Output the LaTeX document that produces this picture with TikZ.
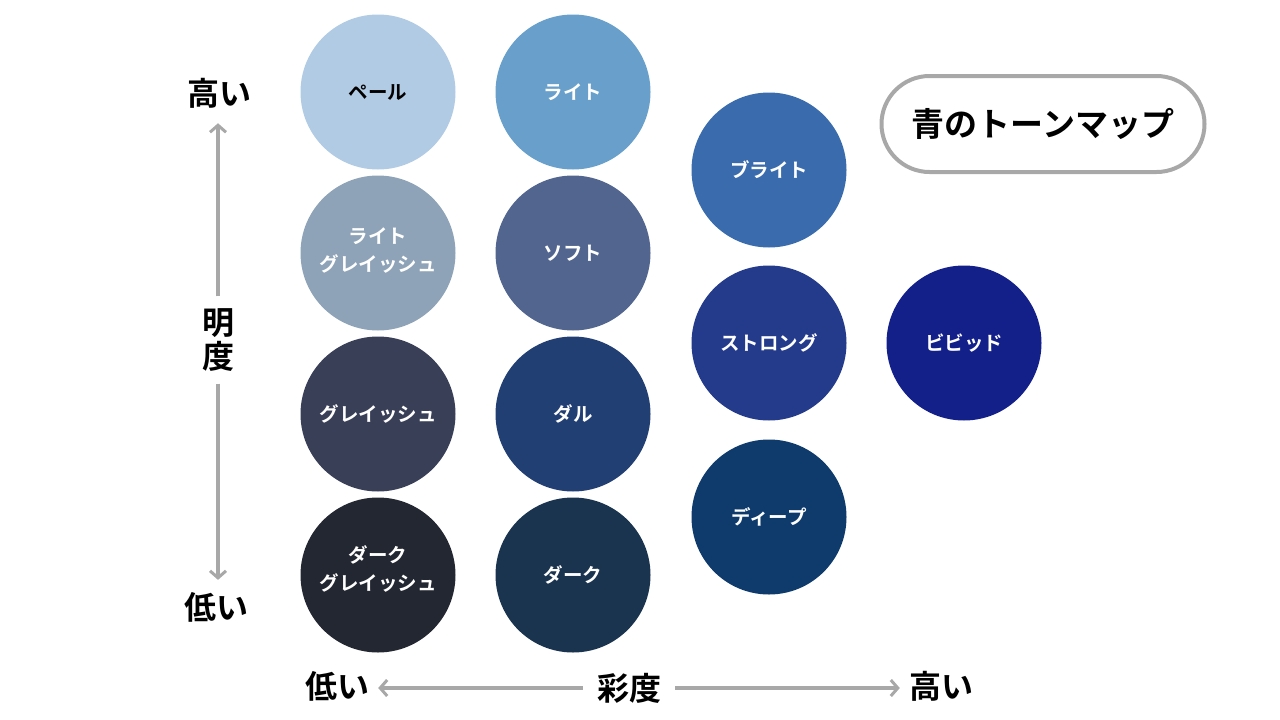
\documentclass[tikz,border=0pt]{standalone}
\usepackage{fontspec}
\setmainfont{Noto Sans CJK JP}[BoldFont={Noto Sans CJK JP Bold}]
\usetikzlibrary{arrows.meta}
\definecolor{cPale}{HTML}{B0CBE3}
\definecolor{cLight}{HTML}{68A0CB}
\definecolor{cBright}{HTML}{3A6CAD}
\definecolor{cLtGray}{HTML}{8EA3B7}
\definecolor{cSoft}{HTML}{52658F}
\definecolor{cStrong}{HTML}{243A8B}
\definecolor{cVivid}{HTML}{13208A}
\definecolor{cGray}{HTML}{3A3F58}
\definecolor{cDull}{HTML}{223F73}
\definecolor{cDeep}{HTML}{0E3B6C}
\definecolor{cDkGray}{HTML}{232731}
\definecolor{cDark}{HTML}{1A3450}
\definecolor{axisgray}{HTML}{A8A8A8}
\tikzset{
  tone/.style={circle, minimum size=155pt, inner sep=0pt, text=white,
    font=\bfseries\fontsize{19.5}{27.5}\selectfont, align=center},
  tonetext/.style={inner sep=0pt, text=white,
    font=\bfseries\fontsize{19.5}{28}\selectfont, align=center},
  axlabel/.style={font=\bfseries\fontsize{32}{34}\selectfont, inner sep=0pt, align=center},
  axarrow/.style={draw=axisgray, line width=4pt, -{Straight Barb[length=7pt,width=16pt,line width=3pt]}},
}
\begin{document}
\begin{tikzpicture}[x=1pt,y=-1pt]
\useasboundingbox (0,0) rectangle (1280,720);
% tones
\node[tone, fill=cPale, text=black] (pale) at (378,92) {ペール};
\node[tone, fill=cLight] (light) at (573,92) {ライト};
\node[tone, fill=cLtGray] (ltgray) at (378,253) {};
\node[tonetext] (ltgraytext) at ([yshift=3pt]ltgray.center) {ライト\\グレイッシュ};
\node[tone, fill=cSoft] (soft) at (573,253) {ソフト};
\node[tone, fill=cGray] (gray) at (378,414) {グレイッシュ};
\node[tone, fill=cDull] (dull) at (573,414) {ダル};
\node[tone, fill=cDkGray] (dkgray) at (378,575) {};
\node[tonetext] (dkgraytext) at ([yshift=6pt]dkgray.center) {ダーク\\グレイッシュ};
\node[tone, fill=cDark] (dark) at (573,575) {ダーク};
\node[tone, fill=cBright] (bright) at (769,170) {ブライト};
\node[tone, fill=cStrong] (strong) at (769,343) {ストロング};
\node[tone, fill=cDeep] (deep) at (769,517) {ディープ};
\node[tone, fill=cVivid] (vivid) at (964,343) {ビビッド};
% title
\node[draw=axisgray, line width=4pt, rounded corners=48pt, minimum width=323pt, minimum height=96pt,
  font=\bfseries\fontsize{33}{36}\selectfont] (title) at (1043,124) {青のトーンマップ};
% vertical axis
\node[axlabel] (vhigh) at (219,93) {高い};
\node[axlabel] (vname) at (218,340) {明\\度};
\node[axlabel] (vlow) at (216,607) {低い};
\draw[axarrow, shorten <=12pt, shorten >=15pt] (vname.north) -- (vname.north |- vhigh.south);
\draw[axarrow, shorten <=12pt, shorten >=12pt] (vname.south) -- (vname.south |- vlow.north);
% horizontal axis
\node[axlabel] (hlow) at (337,686) {低い};
\node[axlabel] (hname) at (629,688) {彩度};
\node[axlabel] (hhigh) at (941,686) {高い};
\draw[axarrow, shorten <=14pt, shorten >=9pt] (hname.west) -- (hname.west -| hlow.east);
\draw[axarrow, shorten <=14pt, shorten >=9pt] (hname.east) -- (hname.east -| hhigh.west);
\end{tikzpicture}
\end{document}
